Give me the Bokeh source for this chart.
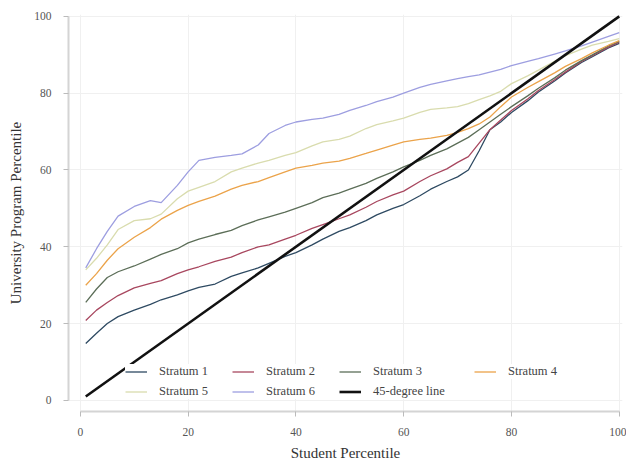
from bokeh.plotting import figure
from bokeh.models import Legend, LegendItem, Range1d, FixedTicker
from bokeh.embed import file_html
from bokeh.resources import INLINE

x = [1, 3, 5, 7, 10, 13, 15, 18, 20, 22, 25, 28, 30, 33, 35, 38, 40, 43, 45, 48, 50,
     53, 55, 58, 60, 63, 65, 68, 70, 72, 74, 76, 78, 80, 83, 85, 88, 90, 93, 95, 98, 100]

stratum1 = [14.8, 17.5, 20, 21.8, 23.5, 25, 26.2, 27.5, 28.5, 29.4, 30.3, 32.3, 33.2, 34.5, 35.7,
            37.5, 38.5, 40.5, 42, 44, 45, 46.8, 48.3, 50, 51, 53.3, 55, 57, 58.2, 60, 65, 70.5,
            72.5, 75, 78, 80.3, 83.2, 85.3, 88, 89.5, 91.8, 93]
stratum2 = [20.8, 23.5, 25.5, 27.3, 29.3, 30.5, 31.2, 33, 34, 34.8, 36.2, 37.3, 38.5, 40, 40.5,
            42, 43, 44.8, 45.8, 47.3, 48.3, 50.3, 51.8, 53.5, 54.5, 57, 58.5, 60.3, 62, 63.5, 67,
            70.5, 73, 75.5, 78.5, 80.7, 83.5, 85.5, 88.3, 89.8, 92, 93.3]
stratum3 = [25.5, 29, 32, 33.5, 35, 36.8, 38, 39.5, 41, 42, 43.2, 44.3, 45.5, 47, 47.8, 49, 50,
            51.5, 52.8, 54, 55, 56.5, 57.8, 59.5, 60.8, 62.5, 63.8, 65.5, 67, 68.5, 70.5, 72.5,
            74.5, 76.5, 79.3, 81.3, 84, 86, 88.5, 90, 92.3, 93.5]
stratum4 = [30, 33, 36.5, 39.5, 42.5, 45, 47.2, 49.5, 50.8, 51.8, 53.2, 55, 56, 57, 58, 59.5,
            60.5, 61.2, 61.8, 62.3, 63, 64.3, 65.2, 66.5, 67.3, 68, 68.3, 69, 69.8, 70.8, 72,
            73.8, 76.5, 79, 81.5, 83, 85.3, 87, 89, 90.5, 92.5, 93.7]
stratum5 = [34, 37, 40.5, 44.5, 46.8, 47.3, 48.5, 52.5, 54.5, 55.5, 57, 59.5, 60.5, 61.8, 62.5,
            63.8, 64.5, 66.3, 67.3, 68, 68.8, 70.8, 71.8, 72.8, 73.5, 75, 75.8, 76.2, 76.5, 77.3,
            78.3, 79.3, 80.5, 82.5, 84.5, 86, 88.3, 89.8, 91.5, 92.5, 93.5, 94.2]
stratum6 = [34.5, 39.5, 44, 48, 50.5, 52, 51.5, 56, 59.5, 62.5, 63.3, 63.8, 64.2, 66.5, 69.5,
            71.6, 72.5, 73.2, 73.5, 74.5, 75.5, 76.8, 77.8, 79, 80, 81.5, 82.3, 83.2, 83.8, 84.3,
            84.8, 85.5, 86.2, 87.2, 88.3, 89, 90.2, 91, 92.3, 93.3, 94.8, 95.8]
diag_x = [1, 100]
diag_y = [1, 100]

series_names = ["Stratum 1", "Stratum 2", "Stratum 3", "Stratum 4", "Stratum 5", "Stratum 6"]
series = [stratum1, stratum2, stratum3, stratum4, stratum5, stratum6]
colors = ["#2e4a62", "#a8475f", "#5c6e58", "#eba34a", "#d9dcae", "#9d9ee0"]
ticks = [0, 20, 40, 60, 80, 100]

FONT = "Liberation Serif"

p = figure(width=626, height=463, output_backend="svg", toolbar_location=None,
           x_range=Range1d(-2.2, 100.6), y_range=Range1d(-2.9, 100.5),
           min_border_left=68, min_border_right=4, min_border_top=14, min_border_bottom=52)
p.outline_line_color = None
p.background_fill_color = "white"
p.border_fill_color = "white"

renderers = []
for ys, c in zip(series, colors):
    r = p.line(x, ys, line_color=c, line_width=1.3)
    renderers.append(r)
rd = p.line(diag_x, diag_y, line_color="#111111", line_width=2.6)
renderers.append(rd)

for ax in (p.xaxis[0], p.yaxis[0]):
    ax.ticker = FixedTicker(ticks=ticks)
    ax.bounds = (0, 100)
    ax.axis_line_color = "#d4d4d4"
    ax.axis_line_width = 2
    ax.major_tick_line_color = "#bbbbbb"
    ax.major_tick_out = 5
    ax.major_tick_in = 0
    ax.minor_tick_line_color = None
    ax.major_label_text_font = FONT
    ax.major_label_text_font_size = "11.5px"
    ax.major_label_text_color = "#555555"
    ax.axis_label_text_font = FONT
    ax.axis_label_text_font_size = "15px"
    ax.axis_label_text_font_style = "normal"
    ax.axis_label_text_color = "#333333"

p.xaxis[0].axis_label = "Student Percentile"
p.yaxis[0].axis_label = "University Program Percentile"
p.xaxis[0].major_label_standoff = 11
p.yaxis[0].major_label_standoff = 12
p.xaxis[0].axis_label_standoff = 6
p.yaxis[0].axis_label_standoff = 7

p.xgrid.ticker = FixedTicker(ticks=ticks)
p.ygrid.ticker = FixedTicker(ticks=ticks)
p.xgrid.grid_line_color = "#f0f0f0"
p.ygrid.grid_line_color = "#f0f0f0"
p.xgrid.grid_line_width = 1
p.ygrid.grid_line_width = 1

labels = series_names + ["45-degree line"]
legend_style = dict(glyph_width=22, glyph_height=15, label_height=15, label_standoff=12,
                    spacing=5, padding=8, margin=0, label_width=68,
                    label_text_font=FONT, label_text_font_size="12.5px",
                    label_text_color="#444444", background_fill_color="white",
                    background_fill_alpha=1.0, border_line_color=None)

order_a = [0, 1, 2, 4, 5, 6]
items_a = [LegendItem(label=labels[i], renderers=[renderers[i]]) for i in order_a]
legend_a = Legend(items=items_a, location=(57, 12), orientation="horizontal", ncols=3,
                  **legend_style)
p.add_layout(legend_a, "center")

items_b = [LegendItem(label=labels[3], renderers=[renderers[3]])]
legend_b = Legend(items=items_b, location=(406, 32), orientation="horizontal",
                  **legend_style)
p.add_layout(legend_b, "center")

open("out.html", "w").write(file_html(p, INLINE))
